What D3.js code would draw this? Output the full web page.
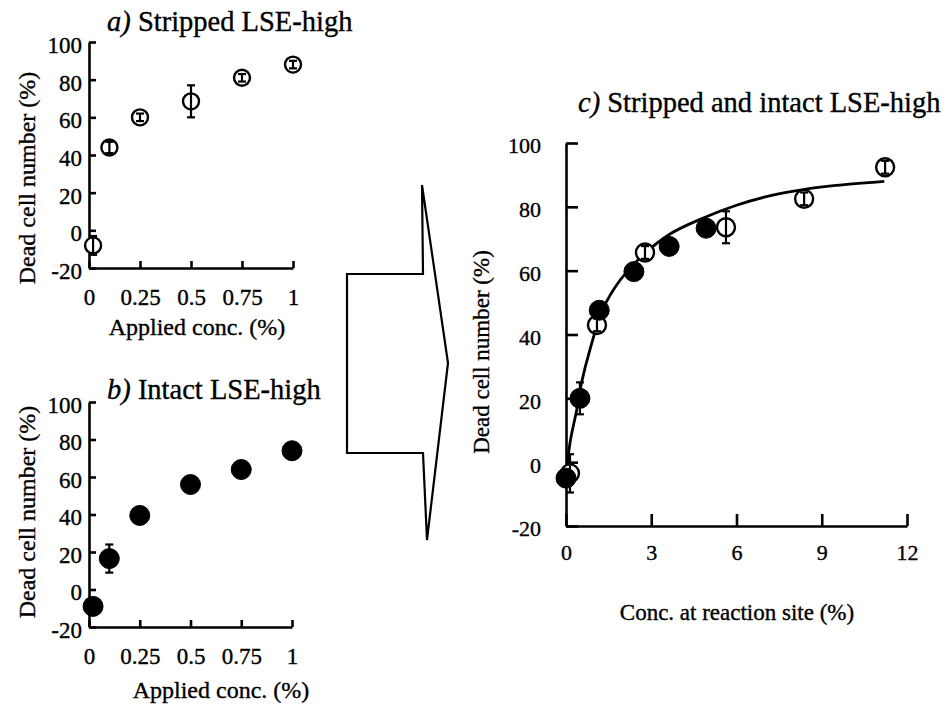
<!DOCTYPE html>
<html lang="en">
<head>
    <meta charset="UTF-8">
    <title>Dead cell number vs concentration</title>
    <style>
        body { margin: 0; background: #fff; }
        svg { display: block; }
        text { font-family: "Liberation Serif", "DejaVu Serif", serif; fill: #000; stroke: #000; stroke-width: 0.35px; }
        .axis path, .axis line { stroke: #000; stroke-width: 2.6px; }
        .err { stroke: #000; stroke-width: 2.2px; }
        .open { fill: none; stroke: #000; stroke-width: 2.4px; }
        .filled { fill: #000; stroke: #000; stroke-width: 1px; }
        .fit { fill: none; stroke: #000; stroke-width: 2.8px; }
    </style>
</head>
<body>
    <svg width="948" height="706"></svg>

    <script src="https://d3js.org/d3.v7.min.js"></script>
    <script>
        // panels a and b: applied concentration
        const appliedConc = [0.02, 0.1, 0.25, 0.5, 0.75, 1];
        const strippedDead = [-8, 44, 60, 68.5, 81, 88];
        const strippedErr = [5, 3, 2, 8.5, 2, 2];
        const intactDead = [-9, 16.5, 39.5, 56, 64, 74];
        const intactErr = [1, 7.5, 1, 1, 1, 1];

        // panel c: concentration at reaction site
        const strippedSite = [0.14, 1.09, 2.78, 5.63, 8.38, 11.23];
        const strippedSiteDead = [-3.5, 43, 65.7, 73.6, 82.5, 92.4];
        const strippedSiteErr = [6, 2, 2, 5, 2, 2];
        const intactSite = [0, 0.49, 1.17, 2.39, 3.63, 4.93];
        const intactSiteDead = [-5, 20, 47.6, 59.7, 67.6, 73.3];
        const intactSiteErr = [1, 5, 1, 1, 1, 1];

        // fitted curve
        const fitX = [0, 0.14, 0.38, 0.55, 0.85, 1.3, 1.9, 2.6, 3.66, 4.83, 6.0, 7.2, 8.35, 9.5, 11.2];
        const fitY = [-5, 6, 16.5, 25, 35.5, 48, 57, 64, 71.5, 76.5, 80.5, 83.5, 85.4, 86.7, 88];

        const yTicks = [-20, 0, 20, 40, 60, 80, 100];
        const appliedTicks = [0, 0.25, 0.5, 0.75, 1];
        const siteTicks = [0, 3, 6, 9, 12];

        const svg = d3.select("svg");

        function drawPanel(opt) {
            const x = d3.scaleLinear().domain(opt.xDomain).range(opt.xRange);
            const y = d3.scaleLinear().domain([-20, 100]).range(opt.yRange);
            const g = svg.append("g");

            g.append("g")
                .attr("class", "axis")
                .attr("transform", `translate(0,${opt.yRange[0]})`)
                .call(d3.axisBottom(x).tickValues(opt.xTicks).tickFormat(d => String(d))
                    .tickSizeInner(-opt.tick).tickSizeOuter(0).tickPadding(opt.xPad))
                .call(s => s.selectAll("text").style("font-size", opt.fs + "px"));

            g.append("g")
                .attr("class", "axis")
                .attr("transform", `translate(${opt.xRange[0]},0)`)
                .call(d3.axisLeft(y).tickValues(yTicks).tickFormat(d => String(d))
                    .tickSizeInner(-opt.tick).tickSizeOuter(0).tickPadding(opt.yPad))
                .call(s => s.selectAll("text").style("font-size", opt.fs + "px").attr("dy", "0.45em"));

            if (opt.fit) {
                const line = d3.line().x(d => x(d[0])).y(d => y(d[1])).curve(d3.curveCatmullRom);
                g.append("path").attr("class", "fit").attr("d", line(d3.zip(fitX, fitY)));
            }

            opt.series.forEach(s => {
                const pts = s.xs.map((v, i) => ({ x: v, y: s.ys[i], e: s.es[i] }));
                const pg = g.append("g");
                // white backing for open markers
                if (s.cls === "open") {
                    pg.selectAll("circle.bg").data(pts).enter().append("circle")
                        .attr("class", "bg").attr("fill", "#fff")
                        .attr("r", s.r).attr("cx", d => x(d.x)).attr("cy", d => y(d.y));
                }
                if (s.cls === "filled") drawMarks(pg, pts, s);
                pts.forEach(d => {
                    pg.append("line").attr("class", "err")
                        .attr("x1", x(d.x)).attr("x2", x(d.x))
                        .attr("y1", y(d.y - d.e)).attr("y2", y(d.y + d.e));
                    [d.y - d.e, d.y + d.e].forEach(v => {
                        pg.append("line").attr("class", "err")
                            .attr("x1", x(d.x) - 4).attr("x2", x(d.x) + 4)
                            .attr("y1", y(v)).attr("y2", y(v));
                    });
                });
                if (s.cls === "open") drawMarks(pg, pts, s);
            });

            function drawMarks(pg, pts, s) {
                pg.selectAll("circle.mk").data(pts).enter().append("circle")
                    .attr("class", s.cls + " mk")
                    .attr("r", s.r)
                    .attr("cx", d => x(d.x))
                    .attr("cy", d => y(d.y));
            }

            // titles
            const t = svg.append("text").attr("x", opt.title.x).attr("y", opt.title.y)
                .style("font-size", opt.title.fs + "px");
            t.append("tspan").style("font-style", "italic").text(opt.title.tag);
            t.append("tspan").text(" " + opt.title.text);

            svg.append("text").attr("text-anchor", "middle")
                .attr("x", opt.xLabel.x).attr("y", opt.xLabel.y)
                .style("font-size", opt.labelFs + "px").text(opt.xLabel.text);

            svg.append("text").attr("text-anchor", "middle")
                .attr("transform", `translate(${opt.yLabel.x},${opt.yLabel.y}) rotate(-90)`)
                .style("font-size", opt.labelFs + "px").text("Dead cell number (%)");
        }

        drawPanel({
            xDomain: [0, 1], xRange: [89, 293], yRange: [268, 42],
            xTicks: appliedTicks, tick: 7, xPad: 21, yPad: 7, fs: 23, labelFs: 24,
            title: { x: 107, y: 31, fs: 28.5, tag: "a)", text: "Stripped LSE-high" },
            xLabel: { x: 197, y: 335, text: "Applied conc. (%)" },
            yLabel: { x: 35, y: 178 },
            series: [{ xs: appliedConc, ys: strippedDead, es: strippedErr, cls: "open", r: 8 }]
        });

        drawPanel({
            xDomain: [0, 1], xRange: [89, 292], yRange: [627, 402],
            xTicks: appliedTicks, tick: 7, xPad: 21, yPad: 7, fs: 23, labelFs: 24,
            title: { x: 107, y: 399, fs: 28.5, tag: "b)", text: "Intact LSE-high" },
            xLabel: { x: 221, y: 698, text: "Applied conc. (%)" },
            yLabel: { x: 35, y: 512 },
            series: [{ xs: appliedConc, ys: intactDead, es: intactErr, cls: "filled", r: 10 }]
        });

        drawPanel({
            xDomain: [0, 12], xRange: [566, 907], yRange: [526, 143],
            xTicks: siteTicks, tick: 12, xPad: 18, yPad: 25, fs: 22, labelFs: 23,
            title: { x: 578, y: 112, fs: 28.5, tag: "c)", text: "Stripped and intact LSE-high" },
            xLabel: { x: 737, y: 620, text: "Conc. at reaction site (%)" },
            yLabel: { x: 489, y: 352 },
            fit: true,
            series: [
                { xs: strippedSite, ys: strippedSiteDead, es: strippedSiteErr, cls: "open", r: 9 },
                { xs: intactSite, ys: intactSiteDead, es: intactSiteErr, cls: "filled", r: 10 }
            ]
        });

        // block arrow between panels
        const arrowPts = [[422, 185], [423, 274], [347, 274], [347, 453], [423, 453], [427, 540], [448, 363]];
        svg.append("path")
            .attr("d", d3.line()(arrowPts) + "Z")
            .attr("fill", "none").attr("stroke", "#000").attr("stroke-width", 2.2)
            .attr("stroke-linejoin", "miter");
    </script>
</body>
</html>
